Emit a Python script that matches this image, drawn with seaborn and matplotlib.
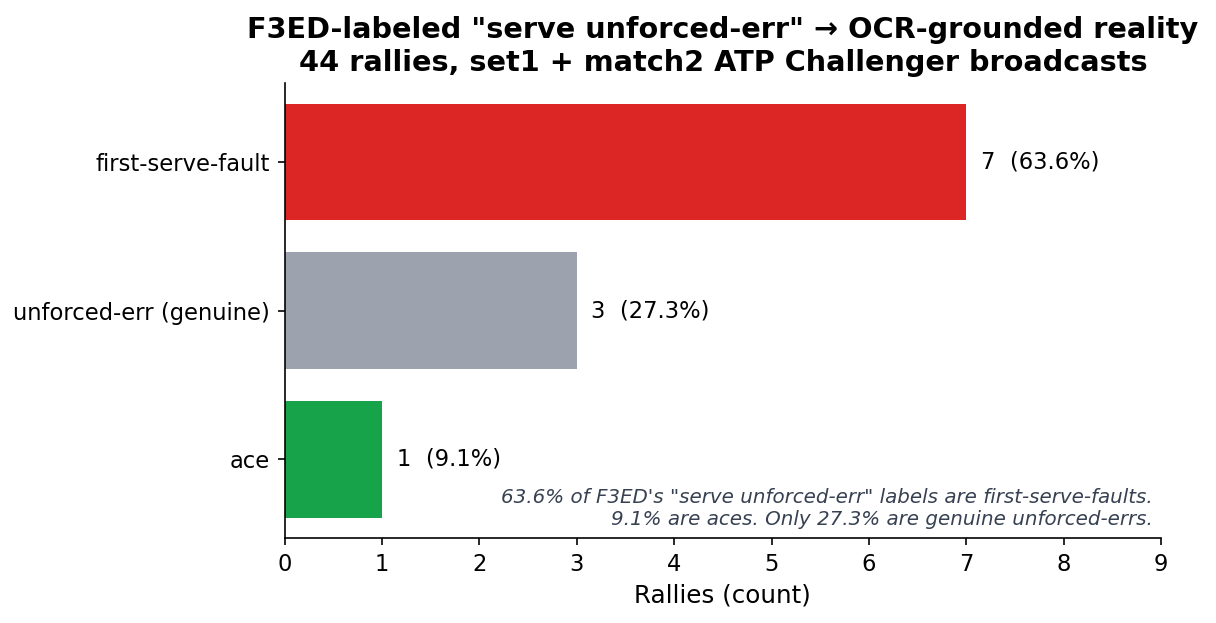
import pandas as pd
import seaborn as sns
import matplotlib.pyplot as plt

categories = ['first-serve-fault', 'unforced-err (genuine)', 'ace']
counts = [7, 3, 1]
colors = ['#dc2626', '#9ca3af', '#16a34a']
total = sum(counts)

df = pd.DataFrame({'category': categories, 'count': counts})

plt.rcParams['font.family'] = ['DejaVu Sans']

bar_h = 0.78
fig, ax = plt.subplots(figsize=(1216 / 148, 623 / 148), dpi=148)
sns.barplot(data=df, x='count', y='category', hue='category',
            palette=colors, orient='h', width=bar_h, legend=False, ax=ax,
            saturation=1)

for i, c in enumerate(counts):
    ax.text(c + 0.15, i, '{0}  ({1:.1f}%)'.format(c, 100 * c / total),
            va='center', ha='left', fontsize=11)

# matplotlib-style 5% margins instead of seaborn's fixed category limits
pad = bar_h / 2 + 0.05 * (len(categories) - 1 + bar_h)
ax.set_ylim(len(categories) - 1 + pad, -pad)
ax.set_xlim(0, 9)
ax.set_xticks(range(10))
ax.set_xlabel('Rallies (count)', fontsize=12)
ax.set_ylabel('')
ax.tick_params(labelsize=11)
ax.set_title('F3ED-labeled "serve unforced-err" \u2192 OCR-grounded reality\n'
             '44 rallies, set1 + match2 ATP Challenger broadcasts',
             fontsize=14, fontweight='bold')
sns.despine(ax=ax)

ax.text(0.99, 0.02,
        '63.6% of F3ED\'s "serve unforced-err" labels are first-serve-faults.\n'
        '9.1% are aces. Only 27.3% are genuine unforced-errs.',
        transform=ax.transAxes, ha='right', va='bottom', fontsize=9.7,
        style='italic', color='#374151')

plt.subplots_adjust(left=0.234, right=0.955, top=0.867, bottom=0.136)
plt.savefig('out.png')
